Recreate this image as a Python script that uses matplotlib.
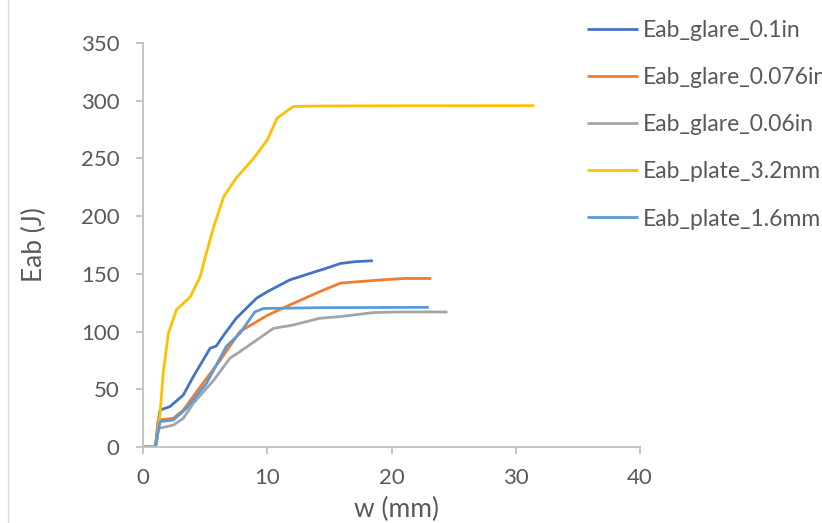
import matplotlib
matplotlib.use("Agg")
import matplotlib.pyplot as plt
from matplotlib.lines import Line2D

plt.rcParams['font.family'] = ['Lato', 'DejaVu Sans']

# Data
w_glare_01 = [0, 1.0, 1.2, 1.37, 2.17, 3.24, 4.05, 5.4, 5.9, 6.5, 7.5, 9.15, 10.0, 11.8, 14.2, 14.8, 15.9, 17.0, 18.5]
e_glare_01 = [0, 0, 20, 32, 35, 45, 61, 85.5, 87.5, 97, 111.5, 129, 134.5, 144.7, 153, 155, 159, 160.5, 161.4]

w_glare_076 = [0, 1.0, 1.23, 2.44, 3.24, 4.6, 6.2, 7.8, 10.0, 11.8, 14.2, 15.9, 19.1, 21.0, 23.2]
e_glare_076 = [0, 0, 23.4, 24.8, 32, 52, 75, 100, 114, 123, 134.5, 142, 144.7, 146, 146]

w_glare_06 = [0, 1.0, 1.23, 2.44, 3.24, 4.05, 5.7, 7.0, 7.8, 9.15, 10.5, 12.1, 14.2, 15.9, 18.5, 20.5, 24.5]
e_glare_06 = [0, 0, 16, 19, 24.8, 37.8, 58, 77, 82.6, 92.7, 102.8, 105.7, 111.5, 113, 116.4, 117, 117]

w_plate_32 = [0, 1.0, 1.1, 1.37, 1.63, 2.04, 2.7, 3.8, 4.6, 5.1, 5.7, 6.5, 7.5, 8.9, 10.0, 10.8, 12.1, 14.2, 20.0, 31.5]
e_plate_32 = [0, 0, 3, 29, 64, 98.5, 119, 130, 147.5, 168, 191, 217, 233, 250, 266, 285, 295, 295.4, 295.6, 295.7]

w_plate_16 = [0, 1.0, 1.37, 2.44, 3.5, 5.1, 6.7, 7.8, 9.0, 9.7, 14.2, 23.0]
e_plate_16 = [0, 0, 22, 23.4, 33.5, 55, 87, 98.5, 117, 120, 120.7, 121]

series = [
    ("Eab_glare_0.1in", w_glare_01, e_glare_01, "#4472C4"),
    ("Eab_glare_0.076in", w_glare_076, e_glare_076, "#ED7D31"),
    ("Eab_glare_0.06in", w_glare_06, e_glare_06, "#A5A5A5"),
    ("Eab_plate_3.2mm", w_plate_32, e_plate_32, "#FFC000"),
    ("Eab_plate_1.6mm", w_plate_16, e_plate_16, "#5B9BD5"),
]

x_ticks = [0, 10, 20, 30, 40]
y_ticks = [0, 50, 100, 150, 200, 250, 300, 350]

fig = plt.figure(figsize=(8.22, 5.23), dpi=100)
ax = fig.add_axes([143/822, 1-447/523, (640-143)/822, (447-43)/523])

handles = []
for name, xs, ys, c in series:
    ln, = ax.plot(xs, ys, color=c, lw=2.0, solid_capstyle='butt', solid_joinstyle='round', label=name)
    handles.append(ln)

ax.set_xlim(0, 40)
ax.set_ylim(0, 350)
ax.set_xticks(x_ticks)
ax.set_yticks(y_ticks)
for s in ['top', 'right']:
    ax.spines[s].set_visible(False)
for s in ['left', 'bottom']:
    ax.spines[s].set_color('#BFBFBF')
    ax.spines[s].set_linewidth(1.3)
ax.tick_params(axis='both', colors='#BFBFBF', length=5, width=1.3, labelsize=16,
               labelcolor='#595959', direction='out')
ax.tick_params(axis='x', pad=10)
ax.tick_params(axis='y', pad=12)
ax.set_xlabel("w (mm)", fontsize=19, color='#595959')
ax.set_ylabel("Eab (J)", fontsize=19, color='#595959')
ax.xaxis.set_label_coords((396.5-143)/497, (447-497)/404)
ax.yaxis.set_label_coords((47-143)/497, 0.5)

leg = fig.legend(handles=handles, loc='upper left', bbox_to_anchor=(587/822, 1-20/523),
                 frameon=False, fontsize=16.5, labelcolor='#595959', handlelength=2.23,
                 handletextpad=0.22, labelspacing=1.14, borderaxespad=0, borderpad=0)
for h in leg.legend_handles:
    h.set_linewidth(2.0)

fig.add_artist(Line2D([8/822, 8/822], [0, 1], transform=fig.transFigure, color='#D9D9D9', lw=1))

fig.savefig("out.png", dpi=100)
